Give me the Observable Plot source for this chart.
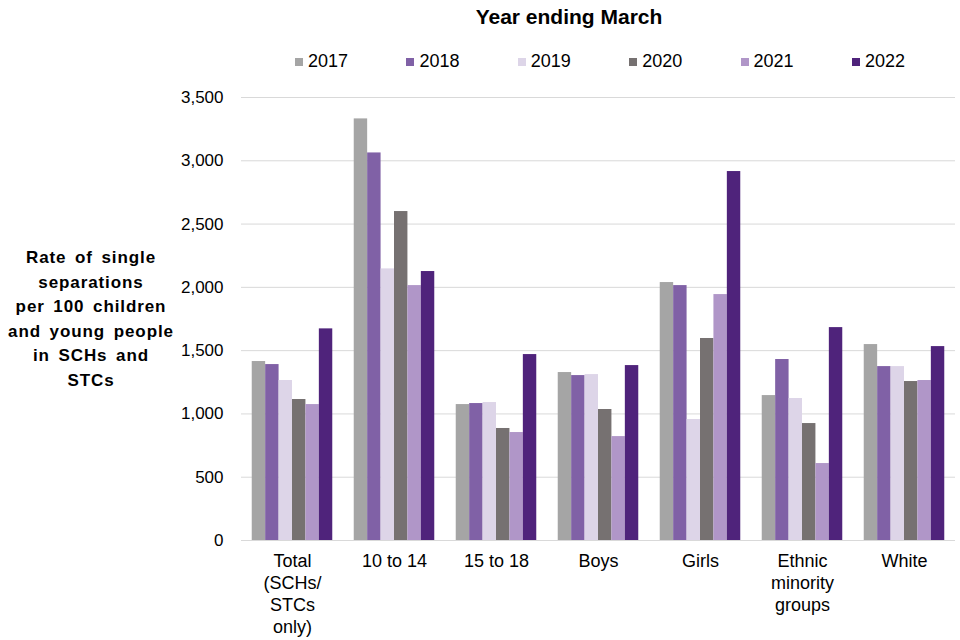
<!DOCTYPE html>
<html>
<head>
<meta charset="utf-8">
<script src="https://cdn.jsdelivr.net/npm/d3@7"></script>
<script src="https://cdn.jsdelivr.net/npm/@observablehq/plot@0.6"></script>
<style>
  body { margin: 0; background: #fff; font-family: "Liberation Sans", Arial, sans-serif; }
  #wrap { position: relative; width: 960px; height: 640px; overflow: hidden; }
  #title { position: absolute; left: 0; width: 1138px; top: 5px; text-align: center; font-weight: bold; font-size: 21px; color: #000; }
  #legend { position: absolute; left: 295px; top: 51px; display: flex; }
  .item { width: 111.4px; display: flex; align-items: center; font-size: 18px; color: #000; }
  .sw { width: 8px; height: 8px; margin-right: 5px; display: inline-block; }
  #ylab { position: absolute; left: 0; width: 182px; top: 246px; text-align: center; font-weight: bold; font-size: 17px; letter-spacing: 0.9px; word-spacing: 3px; line-height: 24.6px; color: #000; white-space: pre; }
  #chart { position: absolute; left: 0; top: 85px; }
</style>
</head>
<body>
<div id="wrap">
  <div id="title">Year ending March</div>
  <div id="legend"></div>
  <div id="chart"></div>
  <div id="ylab">Rate of single
separations
per 100 children
and young people
in SCHs and
STCs</div>
</div>
<script>
const groups = ["Total", "10 to 14", "15 to 18", "Boys", "Girls", "Ethnic", "White"];
const groupLabels = ["Total\n(SCHs/\nSTCs\nonly)", "10 to 14", "15 to 18", "Boys", "Girls", "Ethnic\nminority\ngroups", "White"];
const years = ["2017", "2018", "2019", "2020", "2021", "2022"];
const colors = ["#a5a5a5", "#8061a6", "#ddd5e8", "#767171", "#b096c8", "#4f237b"];
const v2017 = [1414, 3331, 1074, 1327, 2038, 1145, 1548];
const v2018 = [1390, 3062, 1082, 1303, 2014, 1430, 1374];
const v2019 = [1264, 2146, 1090, 1311, 956, 1122, 1374];
const v2020 = [1114, 2599, 885, 1035, 1596, 924, 1256];
const v2021 = [1074, 2014, 853, 821, 1943, 608, 1264];
const v2022 = [1672, 2125, 1469, 1382, 2915, 1682, 1532];
const yTicks = [0, 500, 1000, 1500, 2000, 2500, 3000, 3500];

const series = [v2017, v2018, v2019, v2020, v2021, v2022];
const data = [];
groups.forEach((g, i) => years.forEach((y, j) => data.push({group: g, year: y, value: series[j][i]})));
const labelData = groups.map((g, i) => ({group: g, label: groupLabels[i]}));

const legend = document.getElementById("legend");
years.forEach((y, j) => {
  const it = document.createElement("div");
  it.className = "item";
  it.innerHTML = `<span class="sw" style="background:${colors[j]}"></span><span>${y}</span>`;
  legend.appendChild(it);
});

const chart = Plot.plot({
  width: 960,
  height: 555,
  marginLeft: 240,
  marginRight: 5,
  marginTop: 12,
  marginBottom: 100,
  style: {fontFamily: "Liberation Sans, Arial, sans-serif", fontSize: "17px", color: "#000", background: "#fff"},
  fx: {domain: groups, padding: 0, axis: null, label: null},
  x: {domain: years, paddingInner: 0, paddingOuter: 0.8, axis: null, round: false},
  y: {domain: [0, 3500], ticks: yTicks, tickFormat: d3.format(","), tickSize: 0, tickPadding: 18, label: null},
  color: {domain: years, range: colors},
  marks: [
    Plot.ruleY(yTicks, {stroke: "#d9d9d9", strokeWidth: 1}),
    Plot.barY(data, {fx: "group", x: "year", y: "value", fill: "year"}),
    Plot.text(labelData, {fx: "group", text: "label", frameAnchor: "bottom", lineAnchor: "top", dy: 11, lineHeight: 1.22, fontSize: 18, fill: "#000"})
  ]
});
document.getElementById("chart").appendChild(chart);
</script>
</body>
</html>
